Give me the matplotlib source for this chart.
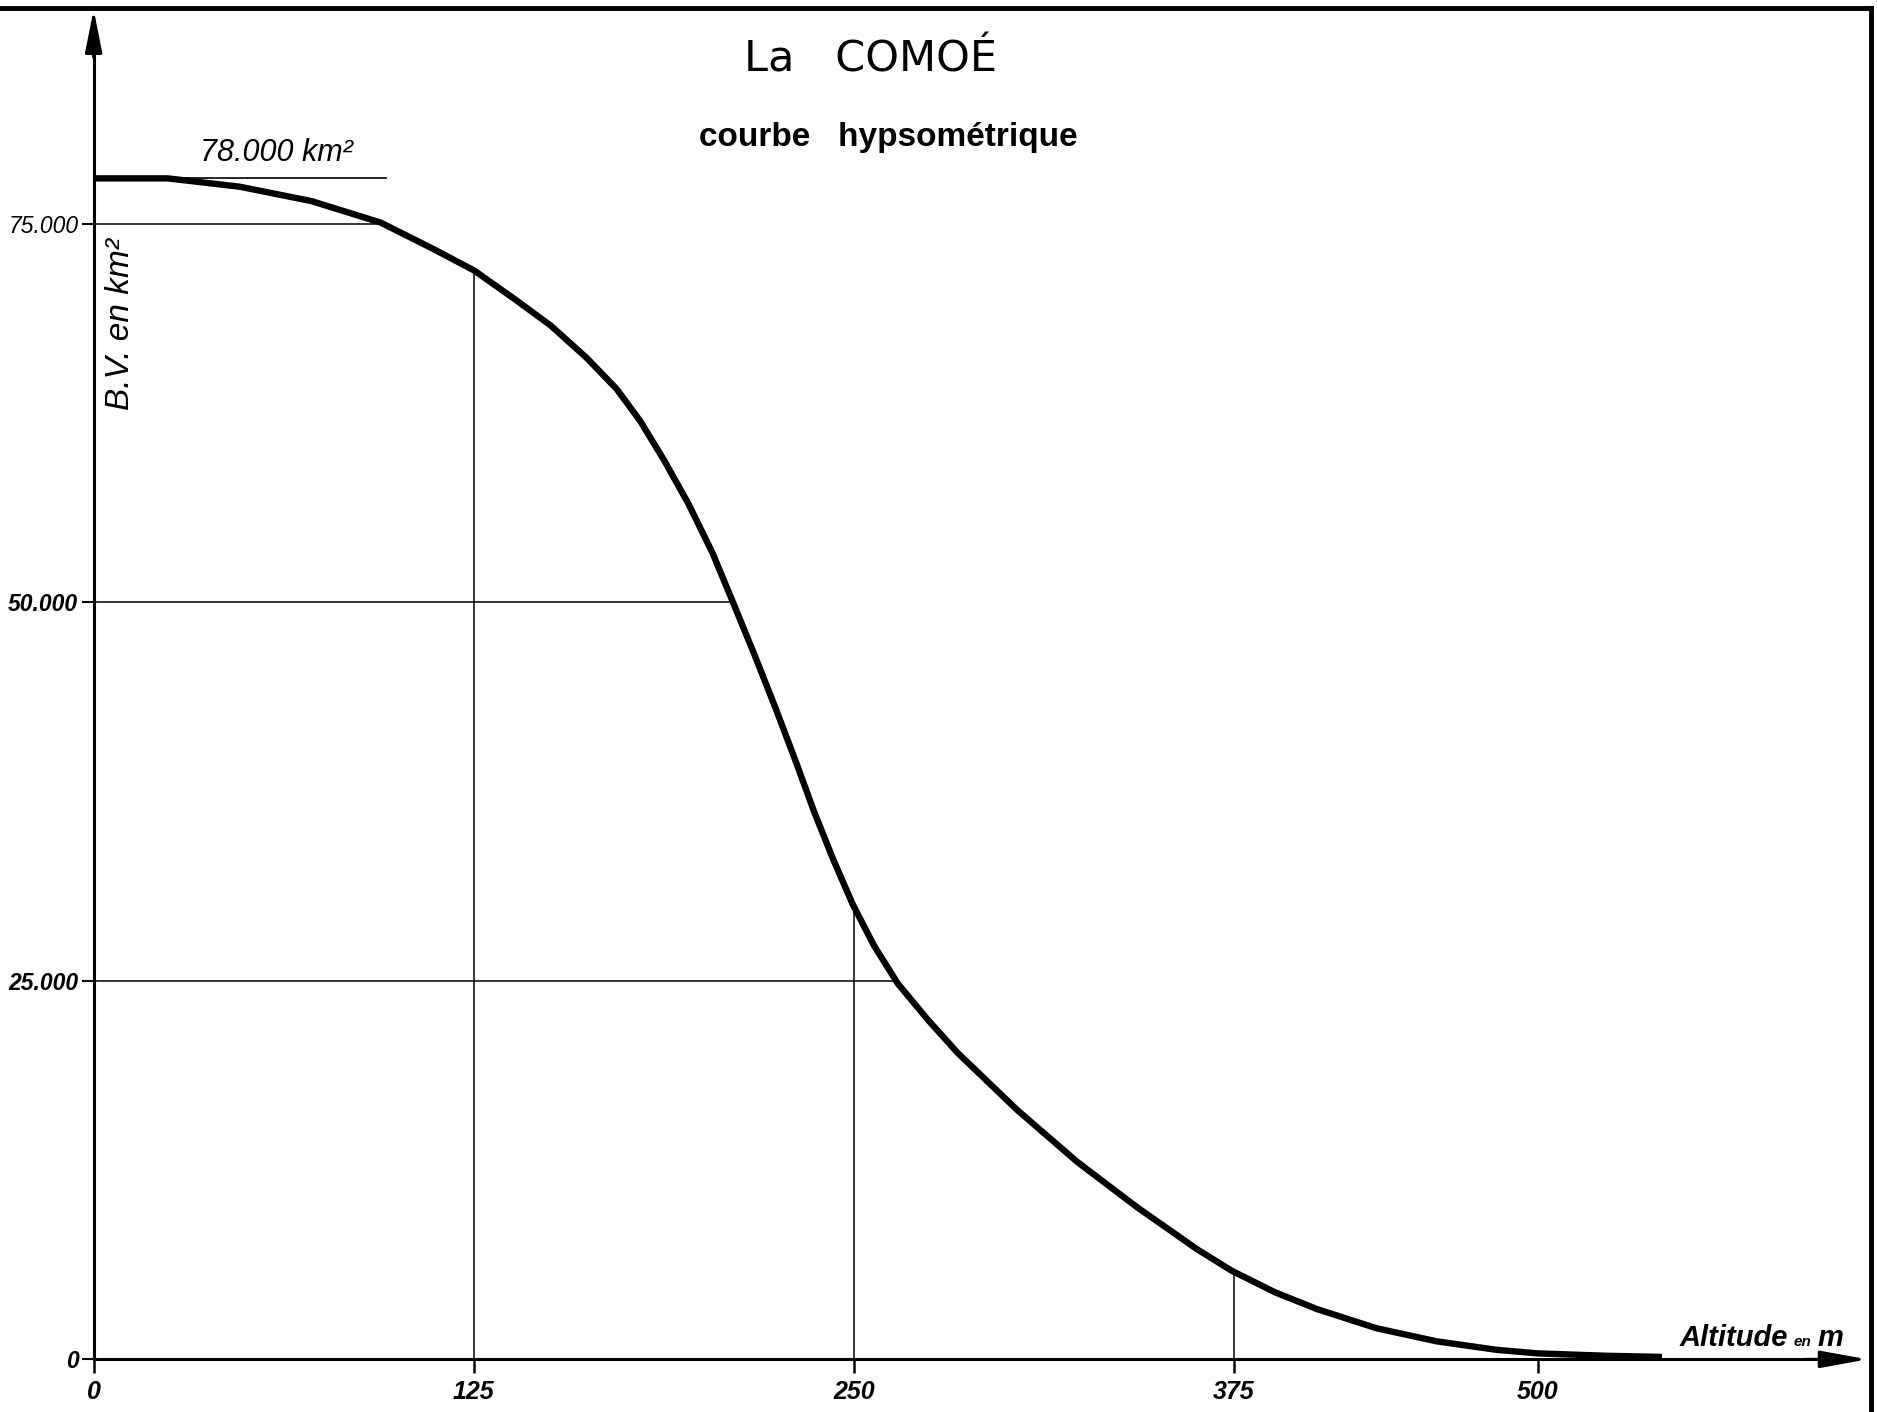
import numpy as np
import matplotlib
matplotlib.use("Agg")
import matplotlib.pyplot as plt
from matplotlib.lines import Line2D

# ---- data ----
altitude = [0, 24.3, 48.0, 71.6, 94.4, 110.9, 125.1, 138.5, 150.3, 162.1,
            172.0, 179.8, 187.7, 195.6, 203.5, 210.2, 217.3, 224.3, 231.0,
            236.9, 243.2, 249.5, 256.6, 264.5, 274.3, 284.2, 303.9, 323.5,
            343.2, 362.9, 374.3, 391.9, 409.2, 433.8, 458.5, 483.1, 499.9,
            527.5, 551.2]
area = [78000, 78000, 77450, 76500, 75080, 73420, 71920, 70020, 68280, 66150,
        64090, 61960, 59350, 56510, 53270, 50030, 46550, 42990, 39440, 36190,
        33030, 30110, 27340, 24810, 22440, 20230, 16440, 13040, 10040, 7270,
        5850, 4430, 3320, 2050, 1190, 630, 395, 240, 160]
x_ticks = [0, 125, 250, 375, 500]
x_tick_labels = ["0", "125", "250", "375", "500"]
y_ticks = [0, 25000, 50000, 75000]
y_tick_labels = ["0", "25.000", "50.000", "75.000"]
guide_x = [125, 250, 375]
guide_y = [25000, 50000, 75000]
total_area = 78000

FONT = ["Liberation Sans", "DejaVu Sans"]

# the hand-drawn axis is compressed beyond 375 m
R = 0.799
def fwd(x):
    x = np.asarray(x, float)
    return np.where(x <= 375, x, 375 + (x - 375) * R)
def inv(p):
    p = np.asarray(p, float)
    return np.where(p <= 375, p, 375 + (p - 375) / R)

fig = plt.figure(figsize=(18.77, 14.12), dpi=100)
ax = fig.add_axes([0, 0, 1, 1])
ax.set_xscale("function", functions=(fwd, inv))
ax.set_xlim(-30.8, 639.7)
ax.set_ylim(-3477, 89780)
ax.set_facecolor("white")

# curve
ax.plot(altitude, area, color="black", lw=4.6, solid_capstyle="butt",
        solid_joinstyle="round", zorder=5)

# guide lines
for xv in guide_x:
    yv = np.interp(xv, altitude, area)
    ax.plot([xv, xv], [0, yv], color="black", lw=1.1, zorder=3)
for yv in guide_y:
    xv = np.interp(yv, area[::-1], altitude[::-1])
    ax.plot([0, xv], [yv, yv], color="black", lw=1.1, zorder=3)

# total area annotation
ax.plot([30, 96], [total_area, total_area], color="black", lw=1.2)
ax.text(60, 78700, "78.000 km²", fontsize=22, style="italic", ha="center",
        va="bottom", family=FONT)

# axes
for s in ["top", "right"]:
    ax.spines[s].set_visible(False)
ax.spines["left"].set_position(("data", 0))
ax.spines["bottom"].set_position(("data", 0))
ax.spines["left"].set_bounds(0, 87000)
ax.spines["bottom"].set_bounds(0, 620)
ax.spines["left"].set_linewidth(2.2)
ax.spines["bottom"].set_linewidth(2.2)
ax.annotate("", xy=(0, 89150), xytext=(0, 86000),
            arrowprops=dict(arrowstyle="-|>,head_length=1.0,head_width=0.2",
                            mutation_scale=26, lw=2.2, color="black",
                            shrinkA=0, shrinkB=0))
ax.annotate("", xy=(635.8, 0), xytext=(610, 0),
            arrowprops=dict(arrowstyle="-|>,head_length=1.1,head_width=0.2",
                            mutation_scale=26, lw=2.2, color="black",
                            shrinkA=0, shrinkB=0))

ax.set_xticks(x_ticks)
ax.set_xticklabels(x_tick_labels)
ax.set_yticks(y_ticks)
ax.set_yticklabels(y_tick_labels)
ax.minorticks_off()
ax.tick_params(axis="x", direction="out", length=10, width=1.8, pad=5)
ax.tick_params(axis="y", direction="out", length=9, width=1.5, pad=2)
for lab in ax.get_xticklabels():
    lab.set_fontsize(18)
    lab.set_fontstyle("italic")
    lab.set_fontweight("bold")
    lab.set_family(FONT)
for lab in ax.get_yticklabels():
    lab.set_fontsize(16.5)
    lab.set_fontstyle("italic")
    lab.set_fontweight("normal" if lab.get_text() == "75.000" else "bold")
    lab.set_family(FONT)

# axis labels
ax.text(8.8, 68400, "B.V. en km²", rotation=90, fontsize=24, style="italic",
        ha="center", va="center", family=FONT)
ax.text(0.895, 0.0466, "Altitude", transform=ax.transAxes, fontsize=21,
        style="italic", weight="bold", ha="left", va="baseline", family=FONT)
ax.text(0.9555, 0.0466, "en", transform=ax.transAxes, fontsize=11,
        style="italic", weight="bold", ha="left", va="baseline", family=FONT)
ax.text(0.9685, 0.0466, "m", transform=ax.transAxes, fontsize=21,
        style="italic", weight="bold", ha="left", va="baseline", family=FONT)

# titles
fig.text(0.4636, 0.9576, "La   COMOÉ", fontsize=31, ha="center", va="center",
         family="DejaVu Sans")
fig.text(0.4735, 0.9025, "courbe   hypsométrique", fontsize=24, weight="bold",
         ha="center", va="center", family=FONT)

# sheet frame
fig.add_artist(Line2D([0, 1563 / 1568], [1 - 7 / 1180] * 2,
                      transform=fig.transFigure, lw=3.5, color="black"))
fig.add_artist(Line2D([1563 / 1568] * 2, [0, 1 - 7 / 1180],
                      transform=fig.transFigure, lw=3.5, color="black"))

fig.savefig("out.png", dpi=100, facecolor="white")
